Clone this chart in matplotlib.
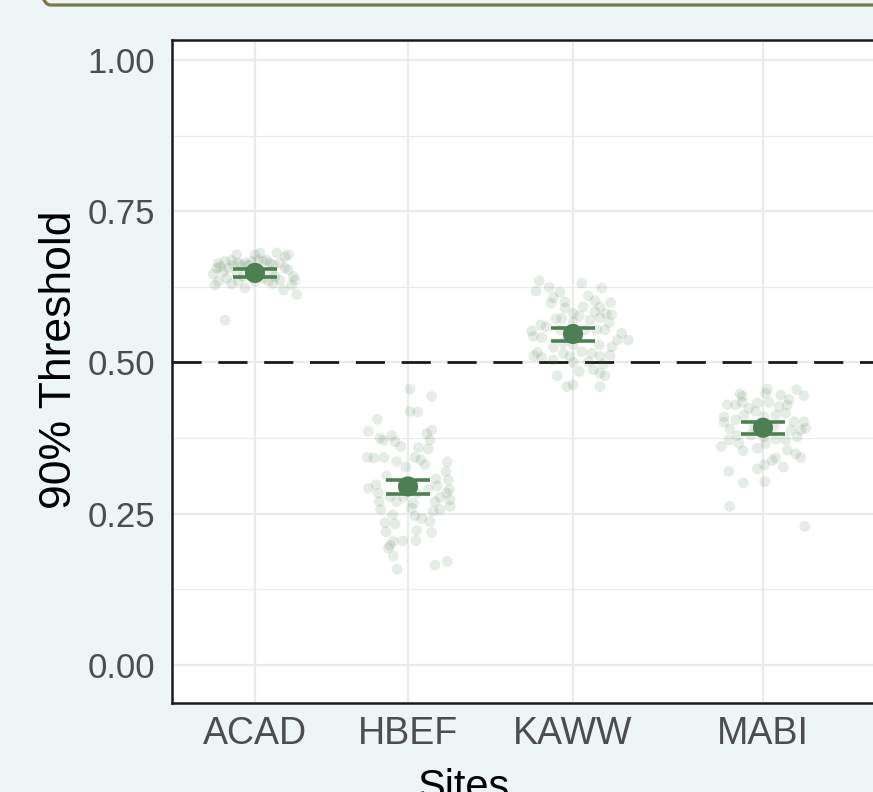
import numpy as np
import matplotlib
matplotlib.use("Agg")
import matplotlib.pyplot as plt
from matplotlib.patches import FancyBboxPatch
from matplotlib.transforms import IdentityTransform

plt.rcParams['font.family'] = ['Liberation Sans', 'DejaVu Sans']
plt.rcParams['lines.scale_dashes'] = False

# ---------------- data ----------------
sites = ["ACAD", "HBEF", "KAWW", "MABI"]
means = [0.648, 0.295, 0.547, 0.392]
ci_low = [0.641, 0.283, 0.536, 0.382]
ci_high = [0.655, 0.306, 0.557, 0.402]
threshold_ref = 0.5

# individual (jittered) estimates: value and horizontal jitter offset
acad_vals = [0.678, 0.669, 0.667, 0.664, 0.656, 0.658, 0.646, 0.650, 0.656, 0.661,
             0.664, 0.661, 0.664, 0.661, 0.681, 0.669, 0.667, 0.669, 0.664, 0.661,
             0.681, 0.675, 0.678, 0.664, 0.656, 0.653, 0.642, 0.636, 0.628, 0.620,
             0.612, 0.630, 0.634, 0.639, 0.623, 0.634, 0.630, 0.639, 0.634, 0.628,
             0.642, 0.642, 0.636, 0.570, 0.667, 0.678, 0.634, 0.647, 0.650]
acad_jit = [-18.3, -23.3, -30, -36.7, -38.3, -35, -41.7, -31.7, -26.7, -21.7,
            -16.7, -13.3, -10, -6.7, 5, 3.3, 8.3, 11.7, 15, 18.3,
            21.7, 30, 33.3, 25, 30, 33.3, 38.3, 40, 36.7, 28.3,
            41.7, 18.3, 13.3, 8.3, -10, -16.7, -23.3, -28.3, -36.7, -40,
            -11.7, 20, 25, -30, -3.3, 0, 0, -18.3, 16.7]

hbef_vals = [0.456, 0.444, 0.419, 0.418, 0.406, 0.386, 0.388, 0.382, 0.375, 0.371,
             0.379, 0.369, 0.361, 0.372, 0.357, 0.359, 0.343, 0.342, 0.343, 0.343,
             0.339, 0.331, 0.336, 0.327, 0.336, 0.320, 0.306, 0.312, 0.298, 0.292,
             0.284, 0.307, 0.296, 0.290, 0.290, 0.284, 0.277, 0.273, 0.270, 0.270,
             0.278, 0.267, 0.270, 0.257, 0.262, 0.259, 0.257, 0.254, 0.248, 0.246,
             0.242, 0.237, 0.235, 0.233, 0.220, 0.222, 0.219, 0.205, 0.205, 0.204,
             0.198, 0.193, 0.180, 0.158, 0.165, 0.171, 0.289, 0.284, 0.278]
hbef_jit = [2, 23.7, 2, 9.7, -30.7, -39.7, 23.7, 18.7, -28, -24.7,
            -16.3, -13, -7.3, 22, 20.3, 10.3, -40.7, -34, -24, 7,
            12.7, 17, -11.3, -2, 39.3, 38, 40.3, -21.3, -32, -39.7,
            -29.7, 28, 29.3, 41.3, 20.3, 38.7, 32, 42, -28.7, -11.3,
            -18, 5.3, 27, -27.3, 42, 3.7, 32, 25.3, -15.3, 7,
            13.7, 22, -23, -13, -22, 8.7, 23.7, -5.3, 8, -14.7,
            -18, -19.7, -14.7, -10.7, 27, 39.3, -4.7, 8.7, -4.7]

kaww_vals = [0.635, 0.624, 0.618, 0.616, 0.631, 0.623, 0.607, 0.598, 0.600, 0.610,
             0.602, 0.592, 0.599, 0.592, 0.590, 0.581, 0.577, 0.584, 0.581, 0.579,
             0.572, 0.573, 0.570, 0.574, 0.566, 0.559, 0.562, 0.552, 0.554, 0.554,
             0.554, 0.554, 0.548, 0.543, 0.541, 0.537, 0.532, 0.529, 0.537, 0.526,
             0.525, 0.517, 0.511, 0.508, 0.515, 0.510, 0.518, 0.515, 0.510, 0.512,
             0.504, 0.500, 0.501, 0.497, 0.488, 0.482, 0.485, 0.478, 0.460, 0.463,
             0.478, 0.460, 0.567, 0.529]
kaww_jit = [-33.7, -23.7, -37, -13, 8.7, 28.7, -19.7, -22.3, -8, 15.3,
            22, 27, 37.7, 10.3, -8, 0.3, 6.3, 22, 33, 38.7,
            -17, -11.3, 17, 27, 36.3, -27, -32.3, -41.3, -12.3, 12,
            23.7, 32, 48.7, -39.7, -31.3, 44.3, -9.7, 26.3, 55.3, 38.7,
            -19.7, -35.7, -39, -31.3, -9.7, -3, 8.7, 18.7, 27, 37,
            -19.7, 0.3, 15.3, 30.3, 20.3, 27, 6.3, -15.7, -6.3, 0,
            32, 27, 0.3, 0.3]

mabi_vals = [0.448, 0.444, 0.449, 0.456, 0.446, 0.455, 0.445, 0.439, 0.430, 0.430,
             0.434, 0.424, 0.433, 0.434, 0.427, 0.430, 0.419, 0.413, 0.413, 0.416,
             0.410, 0.401, 0.405, 0.402, 0.402, 0.391, 0.390, 0.388, 0.388, 0.379,
             0.380, 0.372, 0.361, 0.366, 0.366, 0.373, 0.372, 0.377, 0.354, 0.358,
             0.355, 0.349, 0.343, 0.342, 0.338, 0.327, 0.324, 0.331, 0.320, 0.301,
             0.303, 0.262, 0.229, 0.410, 0.377, 0.394, 0.394]
mabi_jit = [-23, -20.7, 2.7, 4.3, 17.7, 33.7, 41, 26, -35.7, -27.3,
            -20.7, -14, -5.7, 6, 16, 24.3, -7.3, -19, 12.7, 22.7,
            -39, -39, -27.3, 31, 41, 42.7, -33, 27.7, 37.7, -25.7,
            -12.3, -34, -41.7, -24, 2.7, 12.7, 22.7, 34.3, -19.7, -5.7,
            24.3, 32.7, 37.7, 12.7, 9.3, 20.3, -5.7, 1.7, -34, -19.7,
            1.7, -33.3, 41.7, 1, 1, 11, -9]

point_vals = [acad_vals, hbef_vals, kaww_vals, mabi_vals]
point_jit = [acad_jit, hbef_jit, kaww_jit, mabi_jit]

# ---------------- layout / style ----------------
W, H, DPI = 873, 792, 100
bg = "#EDF5F6"
green = "#4E7F52"
site_x = [83, 236, 401, 591]     # horizontal placement of the site categories
cap_half = 22

fig = plt.figure(figsize=(W / DPI, H / DPI), dpi=DPI, facecolor=bg)

# rounded frame at the top (partially outside the figure), in pixel coordinates
frame = FancyBboxPatch((30, H - 5), 1000, 200,
                       boxstyle="round,pad=0,rounding_size=20",
                       transform=IdentityTransform(), facecolor="none",
                       edgecolor="#7A7848", linewidth=2.3, clip_on=False)
fig.patches.append(frame)

ax = fig.add_axes([172 / W, 1 - 703 / H, (892 - 172) / W, (703 - 40) / H])
ax.set_facecolor("white")
ax.set_xlim(0, 720)
ax.set_ylim(-0.063, 1.033)

# grid
yt = [0.0, 0.25, 0.5, 0.75, 1.0]
ax.set_yticks(yt)
ax.set_yticklabels([f"{v:.2f}" for v in yt])
ax.set_yticks([0.125, 0.375, 0.625, 0.875], minor=True)
ax.set_xticks(site_x)
ax.set_xticklabels(sites)
ax.grid(True, which="major", color="#EBEBEB", linewidth=1.6, zorder=0)
ax.grid(True, which="minor", axis="y", color="#EBEBEB", linewidth=0.9, zorder=0)
ax.set_axisbelow(True)

ax.tick_params(axis="both", which="both", length=0, labelcolor="#4D4D4D")
ax.tick_params(axis="y", pad=12, labelsize=25)
ax.tick_params(axis="x", pad=9, labelsize=27)

for s in ax.spines.values():
    s.set_color("#1A1A1A")
    s.set_linewidth(1.8)

# reference line
ax.axhline(threshold_ref, color="#1A1A1A", linewidth=2.0, dashes=(21, 12), zorder=2)

# jittered points
for xc, vals, jit in zip(site_x, point_vals, point_jit):
    xs = xc + np.asarray(jit)
    ax.scatter(xs, vals, s=60, color=green, alpha=0.14, edgecolors="none", zorder=3)

# means with error bars
for xc, m, lo, hi in zip(site_x, means, ci_low, ci_high):
    ax.plot([xc, xc], [lo, hi], color=green, linewidth=2.6, zorder=4)
    ax.hlines([lo, hi], xc - cap_half, xc + cap_half, color=green, linewidth=2.6, zorder=4)
ax.scatter(site_x, means, s=210, color=green, edgecolors="none", zorder=5)

ax.set_ylabel("90% Threshold", fontsize=32, color="black")
ax.yaxis.set_label_coords((80 - 172) / 720, (703 - 360) / 663)
ax.set_xlabel("Sites", fontsize=30, color="black")
ax.xaxis.set_label_coords((463 - 172) / 720, -0.098)

fig.savefig("out.png", dpi=DPI, facecolor=bg)
